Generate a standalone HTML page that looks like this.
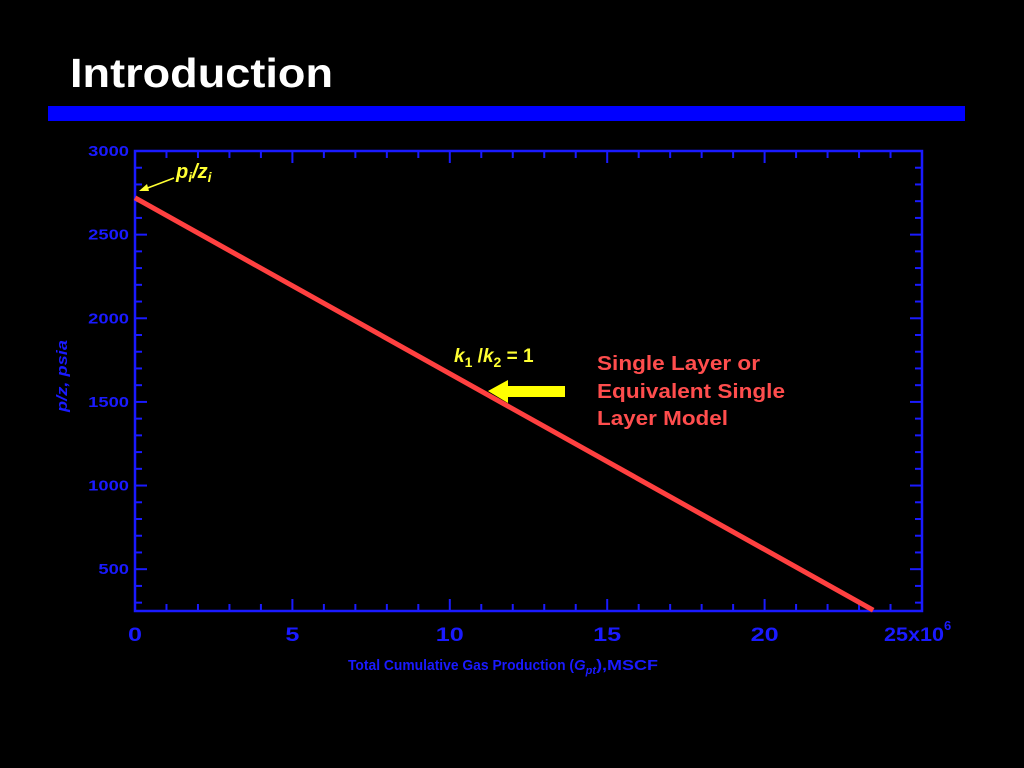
<!DOCTYPE html>
<html><head><meta charset="utf-8"><style>
html,body{margin:0;padding:0;background:#000;width:1024px;height:768px;overflow:hidden}
svg{display:block}
text{font-family:"Liberation Sans",sans-serif;font-weight:bold}
</style></head><body>
<svg width="1024" height="768">
<text x="70" y="87" font-size="41" fill="#fff" textLength="263" lengthAdjust="spacingAndGlyphs">Introduction</text>
<rect x="48" y="106" width="917" height="15" fill="#0000ff"/>
<g id="chart"></g>
<text x="454" y="362" font-size="19" fill="#ffff33"><tspan font-style="italic">k</tspan><tspan font-size="14" dy="5">1</tspan><tspan dy="-5"> /</tspan><tspan font-style="italic">k</tspan><tspan font-size="14" dy="5">2</tspan><tspan dy="-5">  =  1</tspan></text>
<polygon points="488,391 508,380 508,386 565,386 565,397 508,397 508,403" fill="#ffff00"/>
<text font-size="20" fill="#ff4d4d"><tspan x="597" y="370" textLength="163" lengthAdjust="spacingAndGlyphs">Single Layer or</tspan><tspan x="597" y="398" textLength="188" lengthAdjust="spacingAndGlyphs">Equivalent Single</tspan><tspan x="597" y="425" textLength="131" lengthAdjust="spacingAndGlyphs">Layer Model</tspan></text>
<text x="176" y="178" font-size="20" fill="#ffff33" font-style="italic">p<tspan font-size="14" dy="4">i</tspan><tspan dy="-4">/z</tspan><tspan font-size="14" dy="4">i</tspan></text>
<line x1="174" y1="178" x2="145" y2="189" stroke="#ffff33" stroke-width="1.5"/>
<polygon points="139,191 147,184 149,191" fill="#ffff33"/>
</svg>
<script>
const xTicks=[0,5,10,15,20];
const yTicks=[500,1000,1500,2000,2500,3000];
const lineX=[0,23.45];
const lineY=[2720,255];
const X0=135,X1=922,Y0=151,Y1=611,xmin=0,xmax=25,ymin=250,ymax=3000;
const sx=v=>X0+(v-xmin)/(xmax-xmin)*(X1-X0);
const sy=v=>Y1-(v-ymin)/(ymax-ymin)*(Y1-Y0);
const NS='http://www.w3.org/2000/svg';
const g=document.getElementById('chart');
function mk(t,a){const e=document.createElementNS(NS,t);for(const k in a)e.setAttribute(k,a[k]);g.appendChild(e);return e;}
const B='#1a1aff';
let f=mk('rect',{x:X0,y:Y0,width:X1-X0,height:Y1-Y0,fill:'none',stroke:B,'stroke-width':2.5});


for(let v=1;v<25;v++){const x=sx(v),L=v%5?7:12;
 let t=mk('line',{x1:x,x2:x,y1:Y1,y2:Y1-L,stroke:B,'stroke-width':2});
 
 
 let t2=mk('line',{x1:x,x2:x,y1:Y0,y2:Y0+L,stroke:B,'stroke-width':2});
 
 }
for(let v=300;v<3000;v+=100){const y=sy(v),L=v%500?7:12;
 let t=mk('line',{x1:X0,x2:X0+L,y1:y,y2:y,stroke:B,'stroke-width':2});
 
 
 let t2=mk('line',{x1:X1,x2:X1-L,y1:y,y2:y,stroke:B,'stroke-width':2});
 
 }
xTicks.forEach(v=>{const s=String(v);let t=mk('text',{x:sx(v),y:641,'font-size':19,fill:B,'text-anchor':'middle',textLength:s.length*14,lengthAdjust:'spacingAndGlyphs'});t.textContent=s;
 
 });
let tl=mk('text',{x:sx(25)-38,y:641,'font-size':19,fill:B});tl.innerHTML='<tspan textLength="60" lengthAdjust="spacingAndGlyphs">25x10</tspan><tspan font-size="13" dy="-11">6</tspan>';


yTicks.forEach(v=>{const s=String(v);let t=mk('text',{x:129,y:sy(v)+5,'font-size':15,fill:B,'text-anchor':'end',textLength:s.length*10.2,lengthAdjust:'spacingAndGlyphs'});t.textContent=s;
 
 });
let xt=mk('text',{x:348,y:670,'font-size':15,fill:B});
xt.innerHTML='<tspan textLength="226" lengthAdjust="spacingAndGlyphs">Total Cumulative Gas Production (</tspan><tspan font-style="italic">G</tspan><tspan font-size="11" dy="4" font-style="italic">pt</tspan><tspan dy="-4" textLength="62" lengthAdjust="spacingAndGlyphs">),MSCF</tspan>';


let yt=mk('text',{x:67,y:376,'font-size':15,fill:B,'text-anchor':'middle','font-style':'italic',transform:'rotate(-90 67 376)',textLength:72,lengthAdjust:'spacingAndGlyphs'});
yt.textContent='p/z, psia';


let ln=mk('line',{x1:sx(lineX[0]),y1:sy(lineY[0]),x2:sx(lineX[1]),y2:sy(lineY[1]),stroke:'#ff4040','stroke-width':5});


</script>
</body></html>
